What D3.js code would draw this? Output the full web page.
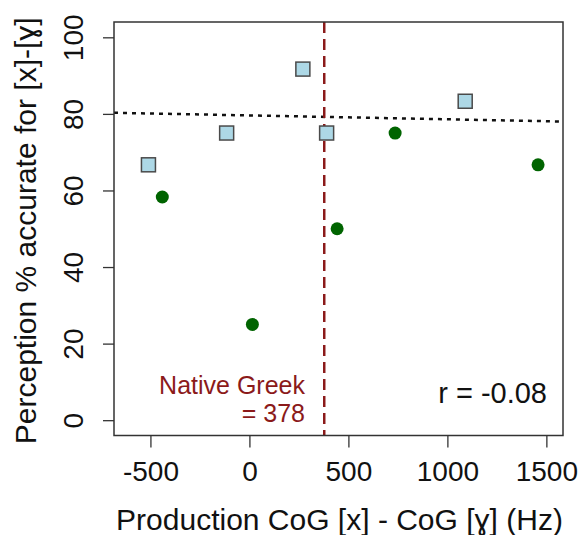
<!DOCTYPE html>
<html>
<head>
<meta charset="utf-8">
<script src="https://cdn.jsdelivr.net/npm/d3@7"></script>
<style>
  body { margin: 0; background: #fff; }
  text { font-family: "Liberation Sans", Arial, sans-serif; }
</style>
</head>
<body>
<svg id="chart" width="583" height="535"></svg>
<script>
// learners (squares) and natives (circles)
const squareX = [-510, -115, 270, 390, 1090];
const squareY = [66.7, 75, 91.7, 75, 83.3];
const circleX = [-440, 15, 443, 736, 1458];
const circleY = [58.3, 25, 50, 75, 66.7];

const xTicks = [-500, 0, 500, 1000, 1500];
const yTicks = [0, 20, 40, 60, 80, 100];

const nativeGreek = 378;
const fitIntercept = 79.6;
const fitSlope = -0.00101;
const rLabel = 'r = -0.08';

const svg = d3.select('#chart');
const plotLeft = 114, plotRight = 563, plotTop = 22, plotBottom = 435.5;

const x = d3.scaleLinear().domain([-684, 1584]).range([plotLeft, plotRight]);
const y = d3.scaleLinear().domain([-4, 104]).range([plotBottom, plotTop]);

const fmt = d => String(d); // plain hyphen minus, no thousands comma

svg.append('defs').append('clipPath').attr('id', 'plotclip')
  .append('rect')
  .attr('x', plotLeft).attr('y', plotTop)
  .attr('width', plotRight - plotLeft).attr('height', plotBottom - plotTop);

const plot = svg.append('g').attr('clip-path', 'url(#plotclip)');

// regression line
const xd = x.domain();
plot.append('line')
  .attr('x1', x(xd[0])).attr('y1', y(fitIntercept + fitSlope * xd[0]))
  .attr('x2', x(xd[1])).attr('y2', y(fitIntercept + fitSlope * xd[1]))
  .attr('stroke', '#111')
  .attr('stroke-width', 2.5)
  .attr('stroke-dasharray', '4,5');

// native Greek reference
plot.append('line')
  .attr('x1', x(nativeGreek)).attr('x2', x(nativeGreek))
  .attr('y1', plotTop).attr('y2', plotBottom)
  .attr('stroke', '#8b1a1a')
  .attr('stroke-width', 2.5)
  .attr('stroke-dasharray', '11,6');

const squares = squareX.map((v, i) => ({ x: v, y: squareY[i] }));
const circles = circleX.map((v, i) => ({ x: v, y: circleY[i] }));

plot.selectAll('rect.sq')
  .data(squares)
  .join('rect')
  .attr('class', 'sq')
  .attr('x', d => x(d.x) - 7)
  .attr('y', d => y(d.y) - 7)
  .attr('width', 14).attr('height', 14)
  .attr('fill', '#add8e6')
  .attr('stroke', '#4a4a4a')
  .attr('stroke-width', 1.5);

plot.selectAll('circle.pt')
  .data(circles)
  .join('circle')
  .attr('class', 'pt')
  .attr('cx', d => x(d.x))
  .attr('cy', d => y(d.y))
  .attr('r', 6.5)
  .attr('fill', '#006400');

// box
svg.append('rect')
  .attr('x', plotLeft).attr('y', plotTop)
  .attr('width', plotRight - plotLeft).attr('height', plotBottom - plotTop)
  .attr('fill', 'none')
  .attr('stroke', '#333')
  .attr('stroke-width', 1.5);

// x axis
const xAxis = svg.append('g')
  .attr('transform', `translate(0,${plotBottom})`)
  .call(d3.axisBottom(x).tickValues(xTicks).tickFormat(fmt)
    .tickSize(12).tickSizeOuter(0).tickPadding(14));
xAxis.select('.domain').remove();
xAxis.selectAll('line').attr('stroke', '#333').attr('stroke-width', 1.3);
xAxis.selectAll('text')
  .attr('fill', '#111')
  .style('font-size', '28px');

// y axis with rotated labels
const yAxis = svg.append('g')
  .attr('transform', `translate(${plotLeft},0)`)
  .call(d3.axisLeft(y).tickValues(yTicks).tickFormat(fmt).tickSize(11).tickSizeOuter(0));
yAxis.select('.domain').remove();
yAxis.selectAll('line').attr('stroke', '#333').attr('stroke-width', 1.3);
yAxis.selectAll('text')
  .attr('x', null).attr('dy', null)
  .attr('text-anchor', 'middle')
  .attr('transform', 'translate(-31,0) rotate(-90)')
  .attr('fill', '#111')
  .style('font-size', '28px');

// axis titles
svg.append('text')
  .attr('x', (plotLeft + plotRight) / 2 + 1)
  .attr('y', 530)
  .attr('text-anchor', 'middle')
  .attr('fill', '#111')
  .style('font-size', '30px')
  .text('Production CoG [x] - CoG [ɣ] (Hz)');

svg.append('text')
  .attr('transform', `translate(36,${(plotTop + plotBottom) / 2 + 2}) rotate(-90)`)
  .attr('text-anchor', 'middle')
  .attr('fill', '#111')
  .style('font-size', '30px')
  .text('Perception % accurate for [x]-[ɣ]');

// annotations
svg.append('text')
  .attr('x', 305).attr('y', 393.5)
  .attr('text-anchor', 'end')
  .attr('fill', '#8b1a1a')
  .style('font-size', '25px')
  .text('Native Greek');
svg.append('text')
  .attr('x', 305).attr('y', 421.5)
  .attr('text-anchor', 'end')
  .attr('fill', '#8b1a1a')
  .style('font-size', '25px')
  .text('= ' + nativeGreek);

svg.append('text')
  .attr('x', 547).attr('y', 403)
  .attr('text-anchor', 'end')
  .attr('fill', '#111')
  .style('font-size', '29px')
  .text(rLabel);
</script>
</body>
</html>
